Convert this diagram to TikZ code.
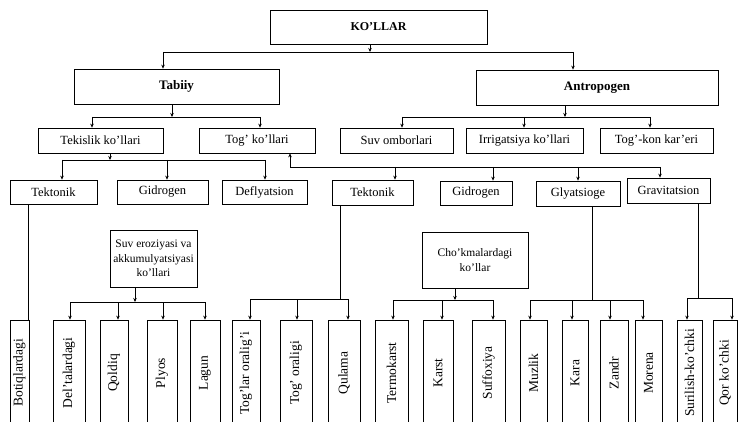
\documentclass[tikz,border=0pt]{standalone}
\usepackage{fontspec}
\setmainfont{Liberation Serif}
\usetikzlibrary{arrows.meta}
\begin{document}
\begin{tikzpicture}[x=1pt,y=-1pt,
 box/.style={draw, line width=0.7pt, inner sep=0pt, font=\fontsize{12.5}{14}\selectfont},
 bbox/.style={box, font=\fontsize{13}{15}\selectfont\bfseries},
 mbox/.style={box, align=center, font=\fontsize{11.5}{14.5}\selectfont},
 leaf/.style={box, rotate=90, minimum width=106pt, font=\fontsize{13.5}{15}\selectfont},
 ln/.style={line width=0.7pt},
 arr/.style={line width=0.7pt, -{Stealth[length=4pt,width=3.5pt]}}]
\useasboundingbox (0,0) rectangle (739,422);
% level 0-1
\node[bbox, minimum width=217pt, minimum height=34pt, font=\fontsize{12}{14}\selectfont\bfseries] (root) at (378.5,27) {KO'LLAR};
\node[bbox, minimum width=205pt, minimum height=35pt] (tab) at (176.5,86.5) {Tabiiy};
\node[bbox, minimum width=242pt, minimum height=35pt] (ant) at (597,87.5) {Antropogen};
% level 2
\node[box, minimum width=125pt, minimum height=25pt] (tek) at (100.5,140.5) {Tekislik ko'llari};
\node[box, minimum width=116pt, minimum height=25pt] (tog) at (257,140.5) {Tog' ko'llari};
\node[box, minimum width=113pt, minimum height=25pt] (suv) at (396.5,140.5) {Suv omborlari};
\node[box, minimum width=117pt, minimum height=25pt] (irr) at (524.5,140.5) {Irrigatsiya ko'llari};
\node[box, minimum width=113pt, minimum height=25pt] (kon) at (656.5,140.5) {Tog'-kon kar'eri};
% level 3
\node[box, minimum width=87pt, minimum height=24pt] (tk1) at (53.5,192) {Tektonik};
\node[box, minimum width=91pt, minimum height=24pt] (gd1) at (162.5,192) {Gidrogen};
\node[box, minimum width=85pt, minimum height=24pt] (def) at (264.5,192) {Deflyatsion};
\node[box, minimum width=81pt, minimum height=25pt] (tk2) at (372.5,192.5) {Tektonik};
\node[box, minimum width=72pt, minimum height=24pt] (gd2) at (476,193) {Gidrogen};
\node[box, minimum width=84pt, minimum height=25pt] (gly) at (578,193.5) {Glyatsioge};
\node[box, minimum width=83pt, minimum height=25pt] (gra) at (668.5,190.5) {Gravitatsion};
% middle boxes
\node[mbox, minimum width=87pt, minimum height=57pt] (se) at (153.5,258.5) {Suv eroziyasi va\\akkumulyatsiyasi\\ko'llari};
\node[mbox, minimum width=106pt, minimum height=56pt] (ch) at (475,260) {Cho'kmalardagi\\ko'llar};
% leaves
\node[leaf, minimum height=19pt] (l1) at (19.5,373) {Botiqlardagi};
\node[leaf, minimum height=32pt] (l2) at (69,373) {Del'talardagi};
\node[leaf, minimum height=28pt] (l3) at (114,373) {Qoldiq};
\node[leaf, minimum height=30pt] (l4) at (162,373) {Plyos};
\node[leaf, minimum height=30pt] (l5) at (205,373) {Lagun};
\node[leaf, minimum height=28pt] (l6) at (246,373) {Tog'lar oralig'i};
\node[leaf, minimum height=32pt] (l7) at (296,373) {Tog' oraligi};
\node[leaf, minimum height=32pt] (l8) at (344,373) {Qulama};
\node[leaf, minimum height=33pt] (l9) at (391.5,373) {Termokarst};
\node[leaf, minimum height=30pt] (l10) at (438,373) {Karst};
\node[leaf, minimum height=33pt] (l11) at (488.5,373) {Suffoxiya};
\node[leaf, minimum height=27pt] (l12) at (533.5,373) {Muzlik};
\node[leaf, minimum height=26pt] (l13) at (575,373) {Kara};
\node[leaf, minimum height=28pt] (l14) at (614,373) {Zandr};
\node[leaf, minimum height=27pt] (l15) at (648.5,373) {Morena};
\node[leaf, minimum height=25pt] (l16) at (689.5,373) {Surilish-ko'chki};
\node[leaf, minimum height=24pt] (l17) at (725,373) {Qor ko'chki};
% connectors: root
\coordinate (j0) at (370,52);
\coordinate (b0l) at (163,52);
\coordinate (b0r) at (573,52);
\draw[arr] (root.south -| j0) -- (j0);
\draw[ln] (b0l) -- (b0r);
\draw[arr] (b0l) -- (b0l |- tab.north);
\draw[arr] (b0r) -- (b0r |- ant.north);
% Tabiiy
\coordinate (j1) at (172,117);
\coordinate (b1l) at (92,117);
\coordinate (b1r) at (260,117);
\draw[arr] (tab.south -| j1) -- (j1);
\draw[ln] (b1l) -- (b1r);
\draw[arr] (b1l) -- (b1l |- tek.north);
\draw[arr] (b1r) -- (b1r |- tog.north);
% Antropogen
\coordinate (j2) at (565,117);
\coordinate (b2l) at (402,117);
\coordinate (b2m) at (524,117);
\coordinate (b2r) at (650,117);
\draw[arr] (ant.south -| j2) -- (j2);
\draw[ln] (b2l) -- (b2r);
\draw[arr] (b2l) -- (b2l |- suv.north);
\draw[arr] (b2m) -- (b2m |- irr.north);
\draw[arr] (b2r) -- (b2r |- kon.north);
% Tekislik
\coordinate (j3) at (110,160);
\coordinate (b3l) at (62,160);
\coordinate (b3m) at (167,160);
\coordinate (b3r) at (265,160);
\draw[arr] (tek.south -| j3) -- (j3);
\draw[ln] (b3l) -- (b3r);
\draw[arr] (b3l) -- (b3l |- tk1.north);
\draw[arr] (b3m) -- (b3m |- gd1.north);
\draw[arr] (b3r) -- (b3r |- def.north);
% Tog'
\coordinate (j4) at (290,167);
\coordinate (b4a) at (395,167);
\coordinate (b4b) at (493,167);
\coordinate (b4c) at (578,167);
\coordinate (b4d) at (660,167);
\draw[arr] (j4) -- (tog.south -| j4);
\draw[ln] (j4) -- (b4d);
\draw[arr] (b4a) -- (b4a |- tk2.north);
\draw[arr] (b4b) -- (b4b |- gd2.north);
\draw[arr] (b4c) -- (b4c |- gly.north);
\draw[arr] (b4d) -- (b4d |- gra.north);
% Tektonik -> Botiqlardagi
\coordinate (c1) at (28,204);
\draw[ln] (tk1.south -| c1) -- (c1 |- l1.east);
% Suv eroziyasi
\coordinate (j5) at (135,302);
\coordinate (b5a) at (70,302);
\coordinate (b5b) at (118,302);
\coordinate (b5c) at (163,302);
\coordinate (b5d) at (205,302);
\draw[arr] (se.south -| j5) -- (j5);
\draw[ln] (b5a) -- (b5d);
\draw[arr] (b5a) -- (b5a |- l2.east);
\draw[arr] (b5b) -- (b5b |- l3.east);
\draw[arr] (b5c) -- (b5c |- l4.east);
\draw[arr] (b5d) -- (b5d |- l5.east);
% Tektonik (tog')
\coordinate (j6) at (340,299);
\coordinate (b6a) at (250,299);
\coordinate (b6b) at (297,299);
\coordinate (b6c) at (348,299);
\draw[ln] (tk2.south -| j6) -- (j6);
\draw[ln] (b6a) -- (b6c);
\draw[arr] (b6a) -- (b6a |- l6.east);
\draw[arr] (b6b) -- (b6b |- l7.east);
\draw[arr] (b6c) -- (b6c |- l8.east);
% Cho'kmalardagi
\coordinate (j7) at (455,300);
\coordinate (b7a) at (393,300);
\coordinate (b7b) at (442,300);
\coordinate (b7c) at (493,300);
\draw[arr] (ch.south -| j7) -- (j7);
\draw[ln] (b7a) -- (b7c);
\draw[arr] (b7a) -- (b7a |- l9.east);
\draw[arr] (b7b) -- (b7b |- l10.east);
\draw[arr] (b7c) -- (b7c |- l11.east);
% Glyatsioge
\coordinate (j8) at (592,300);
\coordinate (b8a) at (530,300);
\coordinate (b8b) at (572,300);
\coordinate (b8c) at (610,300);
\coordinate (b8d) at (643,300);
\draw[ln] (gly.south -| j8) -- (j8);
\draw[ln] (b8a) -- (b8d);
\draw[arr] (b8a) -- (b8a |- l12.east);
\draw[arr] (b8b) -- (b8b |- l13.east);
\draw[arr] (b8c) -- (b8c |- l14.east);
\draw[arr] (b8d) -- (b8d |- l15.east);
% Gravitatsion
\coordinate (j9) at (698,298);
\coordinate (b9a) at (687,298);
\coordinate (b9b) at (732,298);
\draw[ln] (gra.south -| j9) -- (j9);
\draw[ln] (b9a) -- (b9b);
\draw[arr] (b9a) -- (b9a |- l16.east);
\draw[arr] (b9b) -- (b9b |- l17.east);
\end{tikzpicture}
\end{document}
